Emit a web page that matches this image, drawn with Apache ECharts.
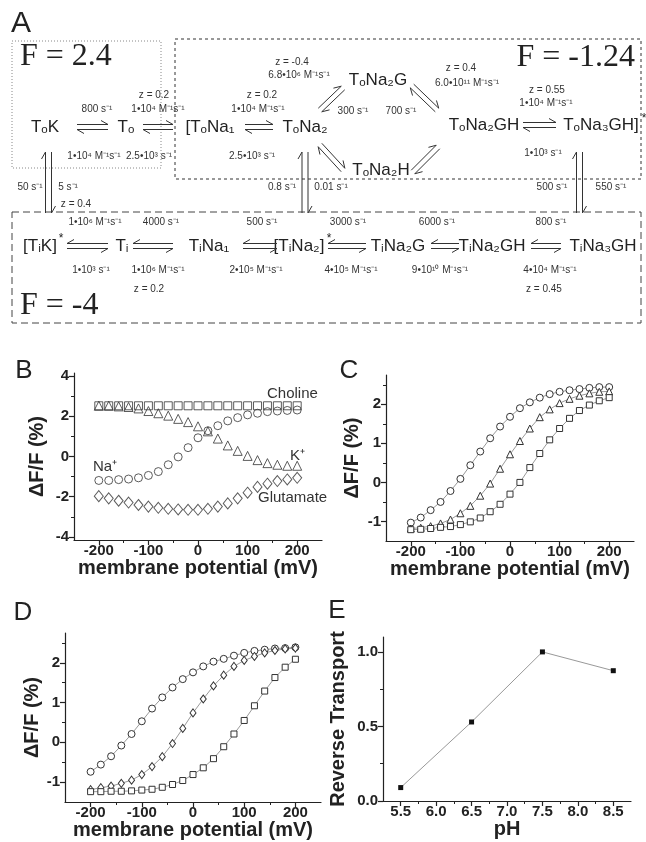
<!DOCTYPE html>
<html>
<head>
<meta charset="utf-8">
<script src="https://cdn.jsdelivr.net/npm/echarts@6.0.0/dist/echarts.min.js"></script>
<style>
  html, body { margin: 0; padding: 0; background: #fff; }
  #main { width: 646px; height: 842px; }
</style>
</head>
<body>
<div id="main"></div>
<script>
// ---- data ----
const mV = [-200, -180, -160, -140, -120, -100, -80, -60, -40, -20, 0, 20, 40, 60, 80, 100, 120, 140, 160, 180, 200]

// panel B
const bCholine = [2.52, 2.52, 2.52, 2.52, 2.52, 2.52, 2.52, 2.52, 2.52, 2.52, 2.52, 2.52, 2.52, 2.52, 2.52, 2.52, 2.52, 2.52, 2.52, 2.52, 2.52]
const bK = [2.52, 2.52, 2.49, 2.46, 2.39, 2.26, 2.15, 2.03, 1.87, 1.71, 1.50, 1.25, 0.89, 0.55, 0.28, 0.03, -0.18, -0.33, -0.41, -0.46, -0.46]
const bNa = [-1.19, -1.19, -1.15, -1.12, -1.06, -0.94, -0.75, -0.41, -0.02, 0.44, 0.93, 1.28, 1.53, 1.77, 1.93, 2.07, 2.15, 2.23, 2.26, 2.29, 2.31]
const bGlu = [-1.97, -2.08, -2.20, -2.29, -2.41, -2.49, -2.55, -2.60, -2.63, -2.65, -2.65, -2.60, -2.49, -2.33, -2.08, -1.80, -1.51, -1.35, -1.22, -1.14, -1.06]

// panel C
const cCircle = [-1.03, -0.90, -0.71, -0.50, -0.22, 0.09, 0.44, 0.79, 1.13, 1.43, 1.68, 1.90, 2.05, 2.17, 2.26, 2.32, 2.36, 2.39, 2.42, 2.44, 2.44]
const cTriangle = [-1.18, -1.16, -1.12, -1.05, -0.95, -0.79, -0.60, -0.34, -0.03, 0.35, 0.72, 1.06, 1.38, 1.67, 1.87, 2.03, 2.14, 2.22, 2.28, 2.32, 2.33]
const cSquare = [-1.21, -1.20, -1.18, -1.15, -1.13, -1.08, -1.01, -0.91, -0.75, -0.56, -0.30, 0.00, 0.38, 0.74, 1.09, 1.38, 1.64, 1.84, 1.98, 2.09, 2.17]

// panel D
const dCircle = [-0.74, -0.56, -0.35, -0.08, 0.21, 0.53, 0.85, 1.13, 1.38, 1.59, 1.76, 1.91, 2.03, 2.10, 2.18, 2.25, 2.30, 2.33, 2.36, 2.37, 2.39]
const dDiamond = [-1.19, -1.14, -1.10, -1.03, -0.95, -0.81, -0.61, -0.36, -0.03, 0.35, 0.74, 1.09, 1.42, 1.69, 1.91, 2.06, 2.16, 2.25, 2.31, 2.35, 2.37]
const dSquare = [-1.24, -1.24, -1.23, -1.23, -1.22, -1.20, -1.18, -1.13, -1.06, -0.96, -0.81, -0.64, -0.41, -0.11, 0.21, 0.55, 0.92, 1.29, 1.63, 1.89, 2.09]

// panel E
const pH = [5.5, 6.5, 7.5, 8.5]
const reverseTransport = [0.09, 0.53, 1.0, 0.874]

// tick values
const mvMajor = [-200, -100, 0, 100, 200]
const mvMinor = [-150, -50, 50, 150]
const bMajor = [-4, -2, 0, 2, 4]
const bMinor = [-3, -1, 1, 3]
const cdMajor = [-1, 0, 1, 2]
const cdMinor = [-0.5, 0.5, 1.5, 2.5]
const phMajor = [5.5, 6.0, 6.5, 7.0, 7.5, 8.0, 8.5]
const phMinor = [5.75, 6.25, 6.75, 7.25, 7.75, 8.25]
const eMajor = [0, 0.5, 1.0]
const eMinor = [0.25, 0.75]

const FONT = '"Liberation Sans", Arial, sans-serif'
const INK = '#222'

function pairs (xs, ys) {
  return xs.map(function (x, i) { return [x, ys[i]] })
}

function mainAxis (dim, gi, min, max, majors, name, gap, fmt) {
  return {
    type: 'value', gridIndex: gi, min: min, max: max,
    position: dim === 'x' ? 'bottom' : 'left',
    axisLine: { show: true, onZero: false, lineStyle: { color: INK, width: 1.2 } },
    axisTick: { show: true, customValues: majors, length: 5, lineStyle: { color: INK, width: 1.2 } },
    axisLabel: {
      customValues: majors, color: INK, fontFamily: FONT, fontWeight: 'bold', fontSize: 15,
      margin: dim === 'x' ? 3 : 5, formatter: fmt
    },
    splitLine: { show: false },
    name: name, nameLocation: 'middle', nameGap: gap,
    nameTextStyle: { color: INK, fontFamily: FONT, fontWeight: 'bold', fontSize: 20 }
  }
}

function minorAxis (dim, gi, min, max, minors) {
  return {
    type: 'value', gridIndex: gi, min: min, max: max,
    position: dim === 'x' ? 'bottom' : 'left',
    axisLine: { show: false, onZero: false },
    axisTick: { show: true, customValues: minors, length: 3, lineStyle: { color: INK, width: 1 } },
    axisLabel: { show: false },
    splitLine: { show: false }
  }
}

const oneDec = function (v) { return v.toFixed(1) }

const xAxes = [
  mainAxis('x', 0, -250, 250, mvMajor, 'membrane potential (mV)', 18),
  minorAxis('x', 0, -250, 250, mvMinor),
  mainAxis('x', 1, -250, 250, mvMajor, 'membrane potential (mV)', 14),
  minorAxis('x', 1, -250, 250, mvMinor),
  mainAxis('x', 2, -250, 250, mvMajor, 'membrane potential (mV)', 11),
  minorAxis('x', 2, -250, 250, mvMinor),
  mainAxis('x', 3, 5.25, 8.75, phMajor, 'pH', 14, oneDec),
  minorAxis('x', 3, 5.25, 8.75, phMinor)
]
const yAxes = [
  mainAxis('y', 0, -4.15, 4.15, bMajor, 'ΔF/F (%)', 27),
  minorAxis('y', 0, -4.15, 4.15, bMinor),
  mainAxis('y', 1, -1.5, 2.75, cdMajor, 'ΔF/F (%)', 24),
  minorAxis('y', 1, -1.5, 2.75, cdMinor),
  mainAxis('y', 2, -1.5, 2.75, cdMajor, 'ΔF/F (%)', 20),
  minorAxis('y', 2, -1.5, 2.75, cdMinor),
  mainAxis('y', 3, 0, 1.1, eMajor, 'Reverse Transport', 35, oneDec),
  minorAxis('y', 3, 0, 1.1, eMinor)
]

function hollow (name, ax, symbol, size, ys) {
  return {
    name: name, type: 'scatter', xAxisIndex: ax, yAxisIndex: ax,
    symbol: symbol, symbolSize: size, data: pairs(mV, ys),
    itemStyle: { color: 'rgba(0,0,0,0)', borderColor: '#333', borderWidth: 1 }
  }
}

function fitted (name, ax, symbol, size, ys) {
  return {
    name: name, type: 'line', xAxisIndex: ax, yAxisIndex: ax,
    symbol: symbol, symbolSize: size, showSymbol: true, data: pairs(mV, ys),
    lineStyle: { color: '#999', width: 1 },
    itemStyle: { color: '#fff', borderColor: '#333', borderWidth: 1 }
  }
}

// ---- scheme (panel A) helpers ----
const graphics = []
function txt (s, x, y, font, opts) {
  opts = opts || {}
  graphics.push({
    type: 'text', x: x, y: y, z: 50,
    style: {
      text: s, font: font, fill: opts.fill || INK,
      align: opts.align || 'center', verticalAlign: opts.va || 'middle',
      textAlign: opts.align || 'center', textVerticalAlign: opts.va || 'middle'
    }
  })
}
function harp (p, q, s, flip) {
  const dx = q[0] - p[0], dy = q[1] - p[1], L = Math.hypot(dx, dy)
  const ux = dx / L, uy = dy / L
  let nx = uy, ny = -ux
  if (flip) { nx = -nx; ny = -ny }
  const b = 7, o = 4
  const a1 = [p[0] + nx * s, p[1] + ny * s], a2 = [q[0] + nx * s, q[1] + ny * s]
  const a3 = [a2[0] - ux * b + nx * o, a2[1] - uy * b + ny * o]
  const c1 = [q[0] - nx * s, q[1] - ny * s], c2 = [p[0] - nx * s, p[1] - ny * s]
  const c3 = [c2[0] + ux * b - nx * o, c2[1] + uy * b - ny * o]
  const st = { stroke: '#333', lineWidth: 1, fill: null }
  graphics.push({ type: 'polyline', z: 50, shape: { points: [a1, a2, a3] }, style: st })
  graphics.push({ type: 'polyline', z: 50, shape: { points: [c1, c2, c3] }, style: st })
}
function box (x, y, w, h, dash, color) {
  graphics.push({
    type: 'rect', z: 40, shape: { x: x, y: y, width: w, height: h },
    style: { stroke: color, fill: null, lineWidth: 1, lineDash: dash }
  })
}

const SP = '17px ' + FONT
const RT = '10px ' + FONT
const SERIF = '32px "Liberation Serif", "Times New Roman", serif'

// boxes
box(12, 41, 149, 127, [1, 2], '#888')
box(175, 39, 466, 140, [3, 3], '#333')
box(12, 212, 629, 111, [7, 4], '#444')

// panel letters
txt('A', 21, 24, '30px ' + FONT)
txt('B', 24, 371, '26px ' + FONT)
txt('C', 349, 371, '26px ' + FONT)
txt('D', 23, 613, '26px ' + FONT)
txt('E', 337, 611, '26px ' + FONT)

// F values
txt('F = 2.4', 20, 57, SERIF, { align: 'left' })
txt('F = -1.24', 635, 58, SERIF, { align: 'right' })
txt('F = -4', 20, 306, SERIF, { align: 'left' })

// species
const species = [
  ['TₒK', 45, 127], ['Tₒ', 126, 127], ['[TₒNa₁', 210, 127], ['TₒNa₂', 305, 127],
  ['TₒNa₂G', 378, 80], ['TₒNa₂H', 381, 170], ['TₒNa₂GH', 484, 125], ['TₒNa₃GH]', 601, 125],
  ['[TᵢK]', 40, 246], ['Tᵢ', 122, 246], ['TᵢNa₁', 209, 246], ['[TᵢNa₂]', 299, 246],
  ['TᵢNa₂G', 398, 246], ['TᵢNa₂GH', 492, 246], ['TᵢNa₃GH', 603, 246]
]
species.forEach(function (s) { txt(s[0], s[1], s[2], SP) })
txt('*', 644, 119, '12px ' + FONT)
txt('*', 61, 239, '12px ' + FONT)
txt('*', 329, 239, '12px ' + FONT)

// rate constants
const rates = [
  ['z = 0.2', 154, 95], ['800 s⁻¹', 97, 109], ['1•10⁴ M⁻¹s⁻¹', 158, 109],
  ['1•10⁴ M⁻¹s⁻¹', 94, 156], ['2.5•10³ s⁻¹', 149, 156],
  ['z = 0.2', 262, 95], ['1•10⁴ M⁻¹s⁻¹', 258, 109], ['2.5•10³ s⁻¹', 252, 156],
  ['z = -0.4', 292, 62], ['6.8•10⁶ M⁻¹s⁻¹', 299, 75],
  ['300 s⁻¹', 353, 111], ['700 s⁻¹', 401, 111],
  ['z = 0.4', 461, 68], ['6.0•10¹¹ M⁻¹s⁻¹', 467, 83],
  ['z = 0.55', 547, 90], ['1•10⁴ M⁻¹s⁻¹', 546, 103], ['1•10³ s⁻¹', 543, 153],
  ['50 s⁻¹', 30, 187], ['5 s⁻¹', 68, 187], ['z = 0.4', 76, 204],
  ['0.8 s⁻¹', 282, 187], ['0.01 s⁻¹', 331, 187],
  ['500 s⁻¹', 552, 187], ['550 s⁻¹', 611, 187],
  ['1•10⁶ M⁻¹s⁻¹', 95, 222], ['4000 s⁻¹', 161, 222], ['500 s⁻¹', 262, 222],
  ['3000 s⁻¹', 348, 222], ['6000 s⁻¹', 437, 222], ['800 s⁻¹', 551, 222],
  ['1•10³ s⁻¹', 91, 270], ['1•10⁶ M⁻¹s⁻¹', 158, 270], ['2•10⁵ M⁻¹s⁻¹', 256, 270],
  ['4•10⁵ M⁻¹s⁻¹', 351, 270], ['9•10¹⁰ M⁻¹s⁻¹', 440, 270], ['4•10⁴ M⁻¹s⁻¹', 550, 270],
  ['z = 0.2', 149, 289], ['z = 0.45', 544, 289]
]
rates.forEach(function (r) { txt(r[0], r[1], r[2], RT, { fill: '#333' }) })

// equilibrium arrows
harp([77, 127], [108, 127], 2.5)
harp([143, 127], [173, 127], 2.5)
harp([245, 127], [273, 127], 2.5)
harp([523, 125], [556, 125], 2.5)
harp([108, 246], [67, 246], 2.5, true)
harp([173, 246], [133, 246], 2.5, true)
harp([277, 246], [243, 246], 2.5, true)
harp([366, 246], [328, 246], 2.5, true)
harp([459, 246], [431, 246], 2.5, true)
harp([561, 246], [531, 246], 2.5, true)
harp([48.5, 213], [48.5, 152], 3)
harp([305, 213], [305, 152], 3)
harp([579.5, 213], [579.5, 152], 3)
harp([320, 110], [343, 88], 2.5)
harp([412, 86], [437, 110], 2.5)
harp([320, 145], [343, 170], 2.5)
harp([413, 172], [438, 147], 2.5)

// panel B curve names
txt('Choline', 267, 394, '15px ' + FONT, { align: 'left', fill: '#333' })
txt('K⁺', 290, 456, '15px ' + FONT, { align: 'left', fill: '#333' })
txt('Na⁺', 93, 467, '15px ' + FONT, { align: 'left', fill: '#333' })
txt('Glutamate', 258, 498, '15px ' + FONT, { align: 'left', fill: '#333' })

const chart = echarts.init(document.getElementById('main'))
chart.setOption({
  backgroundColor: '#fff',
  animation: false,
  textStyle: { fontFamily: FONT },
  grid: [
    { left: 74, top: 373, width: 248, height: 167 },
    { left: 386, top: 375, width: 248, height: 166 },
    { left: 65, top: 633, width: 256, height: 169 },
    { left: 383, top: 637, width: 248, height: 164 }
  ],
  xAxis: xAxes,
  yAxis: yAxes,
  series: [
    hollow('Choline', 0, 'rect', 8, bCholine),
    hollow('K+', 0, 'triangle', 9, bK),
    hollow('Na+', 0, 'circle', 8, bNa),
    hollow('Glutamate', 0, 'diamond', [9, 11], bGlu),
    fitted('C circle', 2, 'circle', 7, cCircle),
    fitted('C triangle', 2, 'triangle', 7, cTriangle),
    fitted('C square', 2, 'rect', 6, cSquare),
    fitted('D circle', 4, 'circle', 7, dCircle),
    fitted('D diamond', 4, 'diamond', [6, 8], dDiamond),
    fitted('D square', 4, 'rect', 6, dSquare),
    {
      name: 'Reverse Transport', type: 'line', xAxisIndex: 6, yAxisIndex: 6,
      symbol: 'rect', symbolSize: 5, data: pairs(pH, reverseTransport),
      lineStyle: { color: '#999', width: 1 },
      itemStyle: { color: '#111' }
    }
  ],
  graphic: graphics
})
</script>
</body>
</html>
